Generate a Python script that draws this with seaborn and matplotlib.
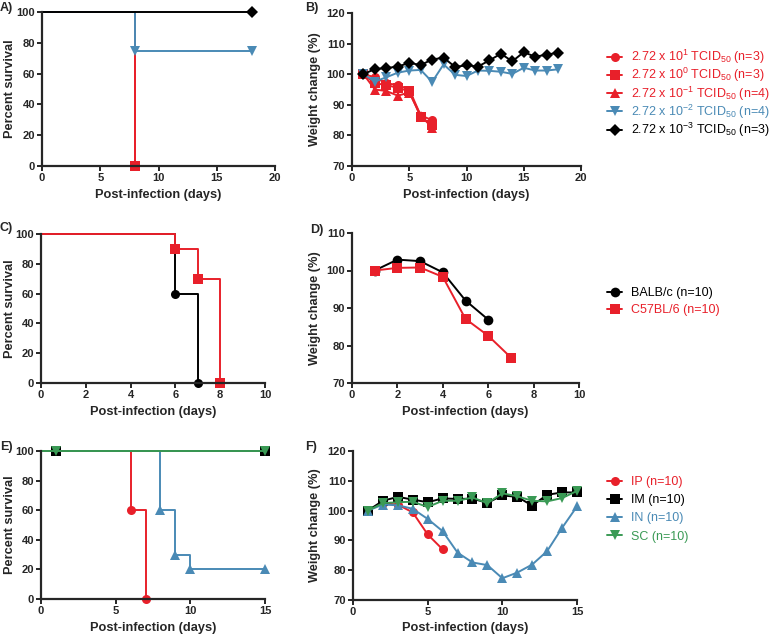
import matplotlib.pyplot as plt
import seaborn as sns

# colours used in the figure
RED = '#e8202a'
BLUE = '#4a8ab5'
GREEN = '#3a9a55'
BLACK = '#000000'

# ---------- A) survival by dose ----------
a_labels = [r'2.72 x 10$^{1}$ TCID$_{50}$ (n=3)', r'2.72 x 10$^{0}$ TCID$_{50}$ (n=3)',
            r'2.72 x 10$^{-1}$ TCID$_{50}$ (n=4)', r'2.72 x 10$^{-2}$ TCID$_{50}$ (n=4)',
            r'2.72 x 10$^{-3}$ TCID$_{50}$ (n=3)']
a_colors = [RED, RED, RED, BLUE, BLACK]
a_markers = ['o', 's', '^', 'v', 'D']
a_time = [[0, 8], [0, 8], [0, 8], [0, 8, 18], [0, 18]]
a_surv = [[100, 0], [100, 0], [100, 0], [100, 75, 75], [100, 100]]

# ---------- B) weight by dose ----------
b_days_red = [1, 2, 3, 4, 5, 6, 7]
b_days = list(range(1, 19))
b_w1 = [100, 99.0, 97.0, 96.5, 95.0, 86.5, 85.0]
b_w0 = [100, 97.0, 96.5, 95.5, 94.5, 86.0, 83.5]
b_wm1 = [100, 95.0, 94.5, 93.0, 94.0, 86.5, 82.5]
b_wm2 = [100, 97.6, 99.0, 100.5, 101.2, 101.4, 97.5, 103.2, 99.8, 99.4,
         101.2, 101.1, 100.8, 100.1, 102.1, 101.2, 101.2, 101.6]
b_wm3 = [100, 101.7, 102.0, 102.5, 103.7, 103.0, 104.8, 105.4, 102.4, 102.9,
         102.5, 104.5, 106.7, 104.2, 107.2, 105.7, 106.4, 107.0]

# ---------- C) survival by strain ----------
c_labels = ['BALB/c (n=10)', 'C57BL/6 (n=10)']
c_colors = [BLACK, RED]
c_markers = ['o', 's']
c_time = [[0, 6, 7], [0, 6, 7, 8]]
c_surv = [[100, 60, 0], [100, 90, 70, 0]]

# ---------- D) weight by strain ----------
d_days_balb = [1, 2, 3, 4, 5, 6]
d_w_balb = [100, 102.9, 102.5, 99.5, 92.0, 86.9]
d_days_c57 = [1, 2, 3, 4, 5, 6, 7]
d_w_c57 = [100, 100.7, 100.8, 98.3, 87.1, 82.6, 76.8]

# ---------- E) survival by route ----------
e_labels = ['IP (n=10)', 'IM (n=10)', 'IN (n=10)', 'SC (n=10)']
e_colors = [RED, BLACK, BLUE, GREEN]
e_markers = ['o', 's', '^', 'v']
e_time = [[0, 6, 7], [0, 1, 15], [0, 8, 9, 10, 15], [0, 1, 15]]
e_surv = [[100, 60, 0], [100, 100, 100], [100, 60, 30, 20, 20], [100, 100, 100]]

# ---------- F) weight by route ----------
f_days_ip = [1, 2, 3, 4, 5, 6]
f_w_ip = [100, 102.5, 102.0, 99.4, 92.0, 87.0]
f_days = list(range(1, 16))
f_w_im = [100, 103.3, 104.6, 103.7, 102.8, 104.1, 103.9, 104.0, 102.6, 105.1,
          104.6, 101.7, 105.3, 106.1, 106.1]
f_w_in = [100, 102.0, 101.8, 100.6, 97.2, 93.1, 85.9, 82.6, 81.7, 77.3,
          79.2, 81.9, 86.4, 94.2, 101.4]
f_w_sc = [100, 102.5, 102.8, 103.0, 101.2, 103.3, 103.3, 104.4, 102.5, 105.8,
          104.8, 103.3, 103.1, 104.2, 106.6]

sns.set_style('ticks')
plt.rcParams['font.family'] = ['Liberation Sans', 'DejaVu Sans']
plt.rcParams['mathtext.fontset'] = 'custom'
plt.rcParams['mathtext.rm'] = 'Liberation Sans'
plt.rcParams['mathtext.it'] = 'Liberation Sans:italic'
plt.rcParams['mathtext.bf'] = 'Liberation Sans:bold'

fig = plt.figure(figsize=(7.77, 6.36), dpi=100)
W, H = 777, 636


def add_axes(left, top, right, bottom):
    return fig.add_axes([left / W, 1 - bottom / H, (right - left) / W, (bottom - top) / H])


def style(ax, xlim, xticks, ylim, yticks, ylabel, label_x):
    ax.set_xlim(*xlim)
    ax.set_ylim(*ylim)
    ax.set_xticks(xticks)
    ax.set_yticks(yticks)
    sns.despine(ax=ax)
    for s in ['left', 'bottom']:
        ax.spines[s].set_linewidth(1.6)
    ax.tick_params(width=1.4, length=3.5, labelsize=8, pad=1.5)
    for lab in ax.get_xticklabels() + ax.get_yticklabels():
        lab.set_fontweight('bold')
    ax.set_xlabel('Post-infection (days)', fontsize=9.2, fontweight='bold', labelpad=4)
    ax.set_ylabel(ylabel, fontsize=9.2, fontweight='bold')
    # place the y label by its right edge, in figure pixels
    pos = ax.get_position()
    ax.yaxis.set_label_coords(label_x / W, (pos.y0 + pos.y1) / 2, transform=fig.transFigure)


def survival(ax, t, s, color, marker, label):
    sns.lineplot(x=t, y=s, ax=ax, drawstyle='steps-post', color=color, lw=1.4,
                 estimator=None, sort=False, marker=marker, markersize=6.5,
                 markeredgewidth=0, markevery=list(range(1, len(t))),
                 label=label, clip_on=False, legend=False)


def weight(ax, x, y, color, marker, label, ms=6.5):
    sns.lineplot(x=x, y=y, ax=ax, color=color, lw=1.4, estimator=None, sort=False,
                 marker=marker, markersize=ms, markeredgewidth=0, label=label,
                 clip_on=False, legend=False)


def legend(ax, x, y, spacing):
    ax.legend(loc='upper left', bbox_to_anchor=(x / W, 1 - y / H),
              bbox_transform=fig.transFigure, frameon=False, fontsize=9,
              handlelength=1.2, handletextpad=0.7, labelspacing=spacing,
              borderpad=0, borderaxespad=0, labelcolor='linecolor')


# A
axA = add_axes(42, 12, 275, 166)
for i in [0, 1, 2, 3, 4]:
    survival(axA, a_time[i], a_surv[i], a_colors[i], a_markers[i], a_labels[i])
style(axA, (0, 20), [0, 5, 10, 15, 20], (0, 100), [0, 20, 40, 60, 80, 100], 'Percent survival', 16)

# B
axB = add_axes(352, 13, 581, 166)
weight(axB, b_days_red, b_w1, RED, 'o', a_labels[0])
weight(axB, b_days_red, b_w0, RED, 's', a_labels[1])
weight(axB, b_days_red, b_wm1, RED, '^', a_labels[2])
weight(axB, b_days, b_wm2, BLUE, 'v', a_labels[3])
weight(axB, b_days, b_wm3, BLACK, 'D', a_labels[4], ms=6)
style(axB, (0, 20), [0, 5, 10, 15, 20], (70, 120), [70, 80, 90, 100, 110, 120], 'Weight change (%)', 321)
legend(axB, 607, 48, 0.0)

# C
axC = add_axes(41, 234, 265, 383)
for i in [0, 1]:
    survival(axC, c_time[i], c_surv[i], c_colors[i], c_markers[i], c_labels[i])
style(axC, (0, 10), [0, 2, 4, 6, 8, 10], (0, 100), [0, 20, 40, 60, 80, 100], 'Percent survival', 16)

# D
axD = add_axes(352, 233, 579, 383)
weight(axD, d_days_balb, d_w_balb, BLACK, 'o', c_labels[0], ms=7)
weight(axD, d_days_c57, d_w_c57, RED, 's', c_labels[1], ms=7)
style(axD, (0, 10), [0, 2, 4, 6, 8, 10], (70, 110), [70, 80, 90, 100, 110], 'Weight change (%)', 321)
legend(axD, 607, 287, 0.42)

# E
axE = add_axes(41, 451, 265, 599)
for i in [0, 2, 1, 3]:
    survival(axE, e_time[i], e_surv[i], e_colors[i], e_markers[i], e_labels[i])
style(axE, (0, 15), [0, 5, 10, 15], (0, 100), [0, 20, 40, 60, 80, 100], 'Percent survival', 16)

# F
axF = add_axes(353, 451, 577, 600)
weight(axF, f_days_ip, f_w_ip, RED, 'o', e_labels[0])
weight(axF, f_days, f_w_im, BLACK, 's', e_labels[1])
weight(axF, f_days, f_w_in, BLUE, '^', e_labels[2])
weight(axF, f_days, f_w_sc, GREEN, 'v', e_labels[3])
style(axF, (0, 15), [0, 5, 10, 15], (70, 120), [70, 80, 90, 100, 110, 120], 'Weight change (%)', 321)
legend(axF, 607, 476, 0.5)

# panel letters
for txt, x, y in [('A)', 0, 8), ('B)', 305, 8), ('C)', 0, 228), ('D)', 310, 230),
                  ('E)', 0, 447), ('F)', 305, 447)]:
    fig.text(x / W, 1 - y / H, txt, fontsize=9, fontweight='bold', va='center', ha='left')

fig.savefig('out.png', dpi=100)
